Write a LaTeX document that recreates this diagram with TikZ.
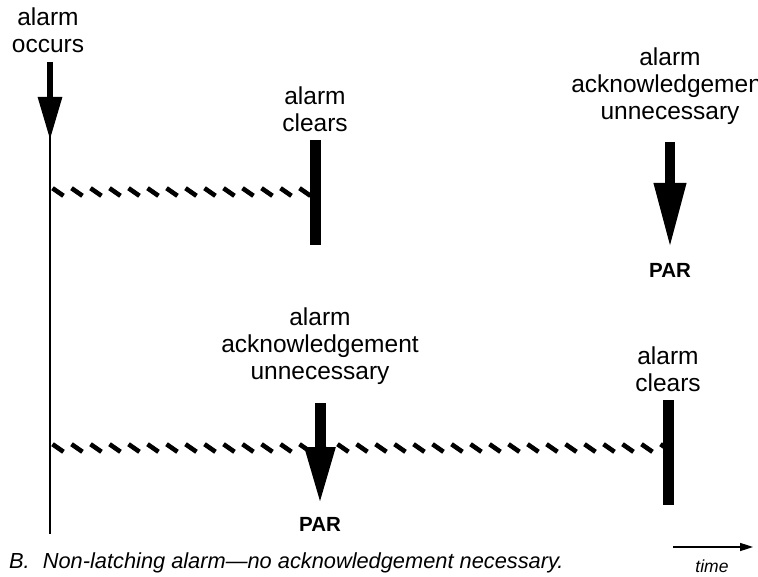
\documentclass[tikz,border=0pt]{standalone}
\usepackage{fontspec}
\setmainfont{Liberation Sans}
\usetikzlibrary{arrows.meta}
\usetikzlibrary{decorations.markings}
\usetikzlibrary{positioning}

\begin{document}
\begin{tikzpicture}[x=1pt, y=-1pt,
    eventlabel/.style={align=center, inner sep=0pt, anchor=south, font=\fontsize{24.5}{27}\selectfont},
    partext/.style={inner sep=0pt, font=\fontsize{20.5}{24}\selectfont\bfseries},
    clearbar/.style={line width=11pt},
    timeline/.style={line width=2pt},
    hatchbar/.style={decoration={markings,
        mark=between positions 6pt and 1 step 19pt with {\draw[line width=4.6pt] (-5.5pt,3.8pt) -- (5.5pt,-3.8pt);}},
        decorate}]

    \useasboundingbox (0,0) rectangle (758,577);

    \coordinate (occstart) at (50,62);
    \coordinate (occtip) at (50,140);
    \coordinate (tlend) at (50,534);
    \node[eventlabel, above=9pt of occstart, xshift=-2pt] (occurs) {alarm\\occurs};
    \draw[line width=6pt, -{Triangle[length=43pt, width=23pt]}] (occstart) -- (occtip);
    \draw[timeline] ([yshift=6pt]occtip) -- (tlend);

    \coordinate (clrtop) at (315,140);
    \coordinate (clrbot) at (315,245);
    \node[eventlabel, above=8pt of clrtop] (clears) {alarm\\clears};
    \draw[clearbar] (clrtop) -- (clrbot);

    \coordinate (hatchA) at (52,192);
    \coordinate (hatchB) at (310,192);
    \path[hatchbar] (hatchA) -- (hatchB);

    \coordinate (ackstart) at (670,142);
    \coordinate (acktip) at (670,248);
    \node[eventlabel, above=17pt of ackstart] (ackunnec) {alarm\\acknowledgement\\unnecessary};
    \draw[line width=10pt, -{Triangle[length=65pt, width=30pt]}] (ackstart) -- (acktip);
    \node[partext, below=15pt of acktip, anchor=north] (par) {PAR};

    \coordinate (lowackstart) at (320,403);
    \coordinate (lowacktip) at (320,505);
    \node[eventlabel, above=18pt of lowackstart] (lowackunnec) {alarm\\acknowledgement\\unnecessary};

    \coordinate (lowhatchA) at (52,448);
    \coordinate (lowhatchB) at (666,448);
    \path[hatchbar] (lowhatchA) -- (lowhatchB);

    \draw[line width=11pt, -{Triangle[length=58pt, width=28pt]}] (lowackstart) -- (lowacktip);
    \node[partext, below=12pt of lowacktip, anchor=north] (lowpar) {PAR};

    \coordinate (lowclrtop) at (668,400);
    \coordinate (lowclrbot) at (668,505);
    \node[eventlabel, above=8pt of lowclrtop] (lowclears) {alarm\\clears};
    \draw[clearbar] (lowclrtop) -- (lowclrbot);

    \node[anchor=base west, inner sep=0pt, font=\fontsize{21.8}{25}\selectfont\itshape] (caption) at (9,568)
        {B.\hspace{0.6em}Non-latching alarm---no acknowledgement necessary.};

    \coordinate (timeA) at (673,547);
    \coordinate (timeB) at (753,547);
    \draw[line width=1.6pt, -{Triangle[length=13pt, width=8pt]}] (timeA) -- (timeB);
    \node[anchor=base, inner sep=0pt, font=\fontsize{17.5}{20}\selectfont\itshape] (timelbl) at (712,572) {time};

\end{tikzpicture}
\end{document}
